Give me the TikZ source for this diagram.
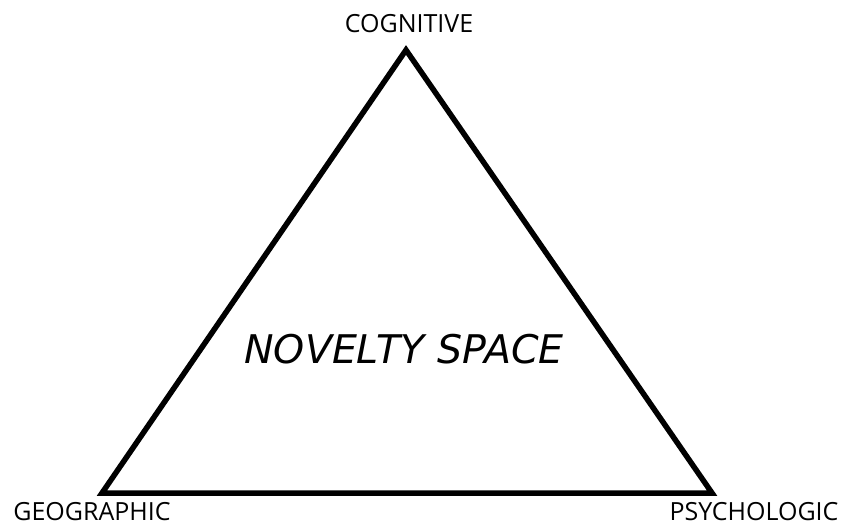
\documentclass[tikz,border=0pt]{standalone}
\usepackage{fontspec}
\setmainfont{Open Sans}
\newfontfamily\novfont{DejaVu Sans}
\begin{document}
\begin{tikzpicture}[x=1pt,y=-1pt,
  vlabel/.style={inner sep=0pt,font=\fontsize{25}{28}\selectfont},
  side/.style={line width=5.5pt,line join=miter}]
\useasboundingbox (0,0) rectangle (842,527);
\coordinate (top) at (406,50);
\coordinate (bl) at (102,493);
\coordinate (br) at (712,493);
\draw[side] (top) -- (br) -- (bl) -- cycle;
\node[vlabel] (cog) at (409,24) {COGNITIVE};
\node[vlabel] (geo) at (92,512) {GEOGRAPHIC};
\node[vlabel] (psy) at (754,512) {PSYCHOLOGIC};
\node[inner sep=0pt,font=\novfont\itshape\fontsize{39.5}{42}\selectfont] (nov) at (404,349) {NOVELTY SPACE};
\end{tikzpicture}
\end{document}
